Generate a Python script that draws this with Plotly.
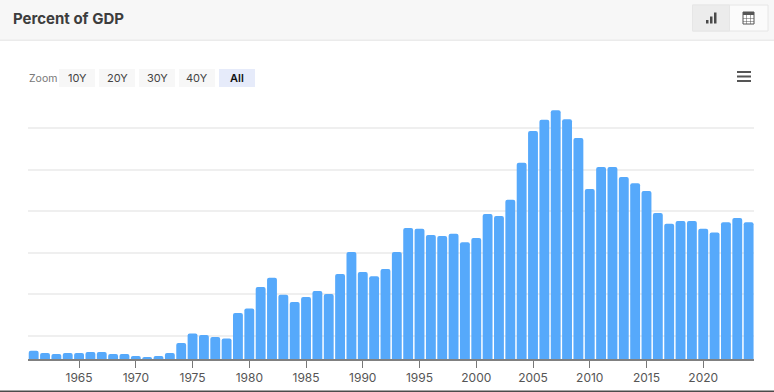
import plotly.graph_objects as go

W, H = 774, 392
years = list(range(1961, 2025))
# Values (unlabelled axis, gridline step = 10)
values = [6.35, 5.8, 5.55, 5.8, 5.8, 6.0, 6.0, 5.55, 5.55, 5.05, 4.8, 5.05, 5.8, 8.2, 10.5, 10.1, 9.65, 9.25,
          15.4, 16.5, 21.7, 23.9, 19.8, 18.1, 19.3, 20.7, 20.0, 24.8, 30.1, 25.3, 24.3, 26.0, 30.1, 35.9,
          35.7, 34.2, 34.0, 34.5, 32.5, 33.5, 39.3, 38.8, 42.7, 51.6, 59.3, 62.0, 64.3, 62.1, 57.6, 45.3,
          50.6, 50.6, 48.2, 46.7, 44.8, 39.5, 36.9, 37.6, 37.6, 35.7, 34.8, 37.3, 38.3, 37.3]
tick_years = list(range(1965, 2025, 5))
grid_values = [10, 20, 30, 40, 50, 60]
zoom_labels = ["10Y", "20Y", "30Y", "40Y", "All"]


def px(x):
    return x / W


def py(y):
    return 1 - y / H


def rect(x0, y0, x1, y1, fill, line=None):
    return dict(type="rect", xref="paper", yref="paper", x0=px(x0), x1=px(x1), y0=py(y1), y1=py(y0),
                fillcolor=fill, line=dict(width=1 if line else 0, color=line or fill), layer="below")


def label(x, y, text, size, color, family="Inter, Roboto, sans-serif", anchor="center", weight=400):
    return dict(xref="paper", yref="paper", x=px(x), y=py(y), text=text, showarrow=False, xanchor=anchor,
                yanchor="middle", font=dict(size=size, color=color, family=family, weight=weight))


shapes = [
    rect(0, 0, 774, 40, "#f7f7f7"),
    rect(0, 39.5, 774, 41, "#ebebeb"),
    rect(0, 390.5, 774, 392, "#4a4a4a"),
    # toggle group
    rect(692.5, 5, 768, 31, "#fbfbfb", "#e6e6e6"),
    rect(692.5, 5, 729.5, 31, "#ececec", "#e6e6e6"),
    # bar icon
    rect(706, 20, 708.5, 23.5, "#4a4a4a"),
    rect(710, 16.5, 712.5, 23.5, "#4a4a4a"),
    rect(714, 12.5, 716.5, 23.5, "#4a4a4a"),
    # table icon
    rect(743, 12, 754, 24, "#ffffff", "#555555"),
    rect(743, 12, 754, 15, "#555555"),
    rect(746.5, 15, 747, 24, "#555555"),
    rect(750.2, 15, 750.7, 24, "#555555"),
    rect(743, 18, 754, 18.5, "#555555"),
    rect(743, 21, 754, 21.5, "#555555"),
    # hamburger menu
    rect(737, 71, 751, 73, "#555555"),
    rect(737, 75.5, 751, 77.5, "#555555"),
    rect(737, 80, 751, 82, "#555555"),
]
annotations = [
    label(10.5, 18, "Percent of GDP", 15, "#3d3d3d", anchor="left", weight=700),
    label(26.5, 78, "Zoom", 10.5, "#777777", anchor="left"),
]
button_lefts = [59, 99, 139, 179, 219]
for left, text in zip(button_lefts, zoom_labels):
    active = text == "All"
    shapes.append(rect(left, 69, left + 36, 87, "#e6ebfa" if active else "#f7f7f7"))
    annotations.append(label(left + 18, 78, text, 11, "#111111" if active else "#444444", weight=600 if active else 400))

fig = go.Figure(go.Bar(x=years, y=values, marker=dict(color="#56a9fb", line=dict(width=0), cornerradius=2),
                       hoverinfo="x+y"))
fig.update_layout(
    width=W, height=H, margin=dict(l=0, r=0, t=0, b=0), autosize=False,
    paper_bgcolor="white", plot_bgcolor="white", showlegend=False, bargap=0.13,
    shapes=shapes, annotations=annotations,
    xaxis=dict(domain=[px(28), px(754.3)], range=[1960.5, 2024.5], tickvals=tick_years, ticks="outside", ticklen=7,
               tickcolor="#777777", tickwidth=1, showgrid=False, showline=True, linecolor="#808080", linewidth=1.5,
               tickfont=dict(size=12, color="#555555", family="Inter, Roboto, sans-serif")),
    yaxis=dict(domain=[py(359), py(100)], range=[4.337, 66.75], tickvals=grid_values, showticklabels=False,
               gridcolor="#efefef", gridwidth=1.5, zeroline=False, showline=False, ticks=""),
)
fig.write_html("out.html", config=dict(displayModeBar=False), post_script="document.body.style.margin='0';")
